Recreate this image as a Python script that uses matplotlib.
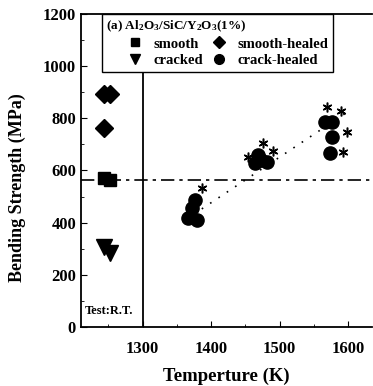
import numpy as np
import matplotlib.pyplot as plt
from matplotlib.lines import Line2D

plt.rcParams['font.family'] = 'Liberation Serif'
plt.rcParams['font.weight'] = 'bold'
plt.rcParams['mathtext.fontset'] = 'custom'
plt.rcParams['mathtext.rm'] = 'Liberation Serif:bold'
plt.rcParams['mathtext.default'] = 'rm'

# room temperature tests (drawn left of the 1300 K divider)
smooth_x = [1243, 1253]
smooth_y = [570, 562]
smooth_healed_x = [1243, 1253, 1243]
smooth_healed_y = [893, 893, 763]
cracked_x = [1243, 1253]
cracked_y = [305, 285]

# crack-healed at high temperature
healed_x = [1366, 1379, 1372, 1376, 1468, 1464, 1482, 1472, 1566, 1577, 1577, 1573]
healed_y = [418, 410, 456, 487, 659, 629, 633, 640, 786, 786, 728, 667]
star_x = [1386, 1453, 1475, 1490, 1569, 1589, 1598, 1592]
star_y = [533, 652, 705, 675, 843, 828, 748, 671]

trend_x = [1362, 1600]
trend_y = [410, 826]
smooth_level = 565

fig = plt.figure(figsize=(3.73, 3.86), dpi=100)
ax = fig.add_axes([0.217, 0.153, 0.781, 0.811])

ax.plot(trend_x, trend_y, ls=(0, (1, 5)), color='black', lw=1.2)
ax.axhline(smooth_level, color='black', lw=1.2, ls=(0, (8, 3, 2, 3)))
ax.axvline(1300, color='black', lw=1.3)

ax.plot(smooth_x, smooth_y, 's', color='black', ms=9)
ax.plot(smooth_healed_x, smooth_healed_y, 'D', color='black', ms=9)
ax.plot(cracked_x, cracked_y, 'v', color='black', ms=11)
ax.plot(healed_x, healed_y, 'o', color='black', ms=9.5)
ax.plot(star_x, star_y, ls='none', marker=(6, 2, 0), color='black', ms=7, mew=1.1)

ax.text(1216, 48, 'Test:R.T.', fontsize=9, fontweight='bold')

ax.set_xlim(1210, 1635)
ax.set_ylim(0, 1200)
ax.set_xticks([1300, 1400, 1500, 1600])
ax.set_xticks([1250, 1350, 1450, 1550], minor=True)
ax.set_yticks(np.arange(0, 1201, 200))
ax.set_yticks(np.arange(100, 1200, 200), minor=True)
ax.tick_params(which='both', direction='in', labelsize=12)
ax.tick_params(axis='x', which='major', pad=10)
ax.tick_params(which='major', length=4)
ax.tick_params(which='minor', length=2)
ax.spines['right'].set_visible(False)
for s in ['left', 'top', 'bottom']:
    ax.spines[s].set_linewidth(1.3)

ax.set_xlabel('Temperture (K)', fontsize=13.5, fontweight='bold', labelpad=8)
ax.set_ylabel('Bending Strength (MPa)', fontsize=13, fontweight='bold')
ax.yaxis.set_label_coords(-0.19, 0.444)

handles = [
    Line2D([], [], ls='none', marker='s', color='black', ms=6),
    Line2D([], [], ls='none', marker='v', color='black', ms=7),
    Line2D([], [], ls='none', marker='D', color='black', ms=6),
    Line2D([], [], ls='none', marker='o', color='black', ms=7),
]
labels = ['smooth', 'cracked', 'smooth-healed', 'crack-healed']
leg = ax.legend(handles, labels, ncol=2, loc='upper left', bbox_to_anchor=(0.072, 1.0),
                borderaxespad=0,
                title='(a) Al$_2$O$_3$/SiC/Y$_2$O$_3$(1%)', fontsize=10.5, title_fontsize=9.5,
                frameon=True, fancybox=False, edgecolor='black', framealpha=1,
                handlelength=3.9, handletextpad=-0.65, columnspacing=-0.9,
                borderpad=0.3, labelspacing=0.25)
leg.get_frame().set_linewidth(1.0)
leg._legend_box.align = 'left'
for t in leg.get_texts():
    t.set_fontweight('bold')
leg.get_title().set_fontweight('bold')

fig.savefig('out.png', dpi=100)
